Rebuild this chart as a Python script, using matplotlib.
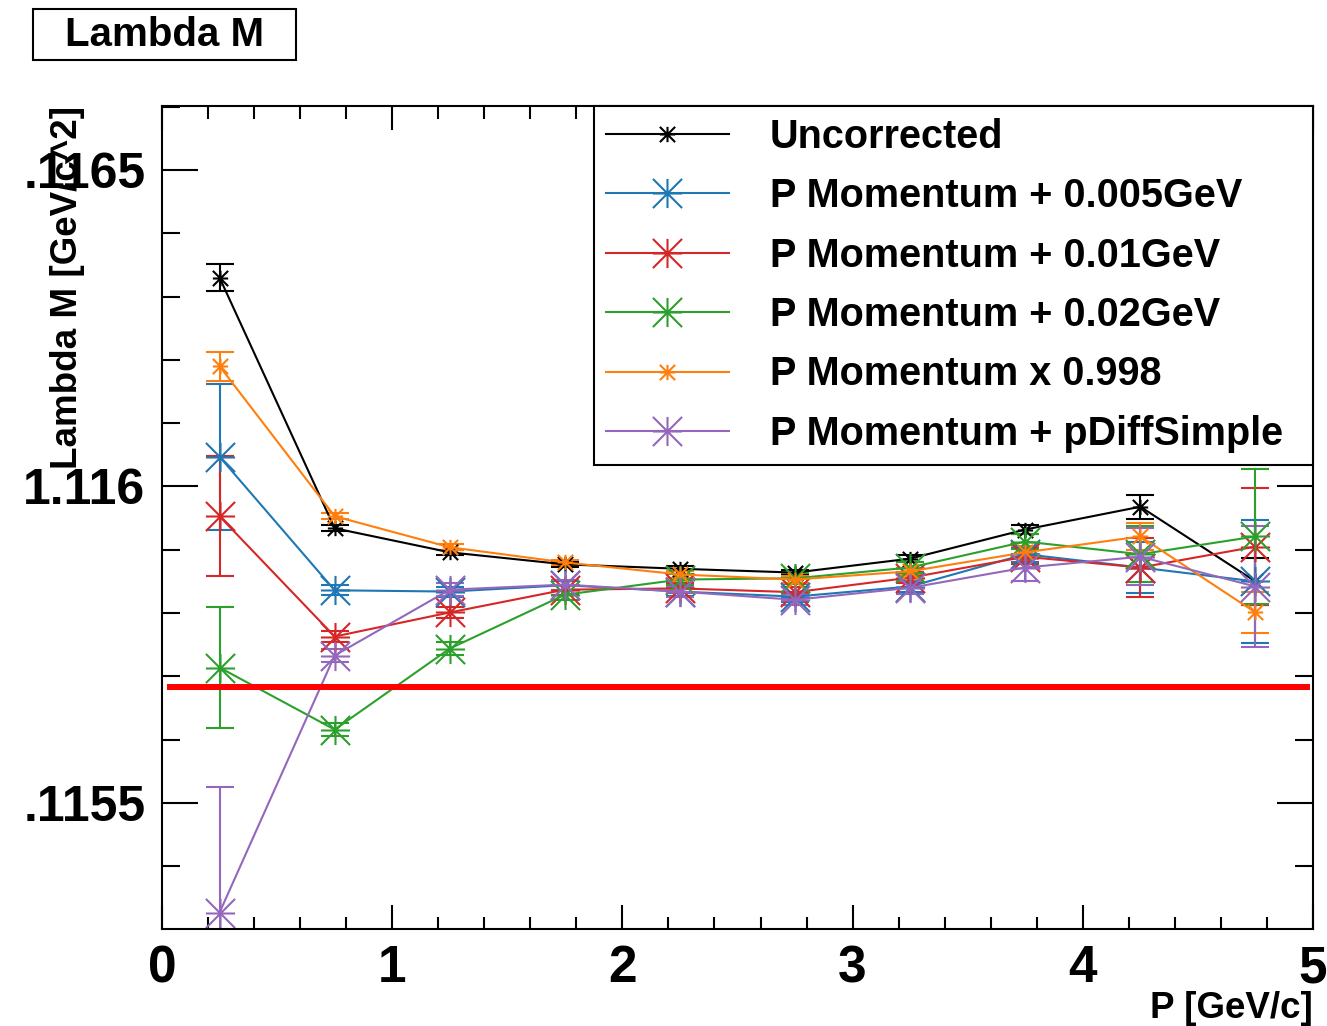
import matplotlib
matplotlib.use("Agg")
import matplotlib.pyplot as plt
import matplotlib.patches as patches
from matplotlib.path import Path
from matplotlib.ticker import FixedLocator, MultipleLocator

plt.rcParams['font.family'] = ['Liberation Sans', 'DejaVu Sans']
plt.rcParams['font.weight'] = 'bold'

# momentum bin centres [GeV/c]
p_bins = [0.25, 0.75, 1.25, 1.75, 2.25, 2.75, 3.25, 3.75, 4.25, 4.75]

# fitted Lambda mass [GeV/c^2] for each correction
uncorrected = [1.116330, 1.115934, 1.115896, 1.115877, 1.115870,
               1.115864, 1.115886, 1.115932, 1.115968, 1.115850]
plus_005 = [1.116047, 1.115836, 1.115834, 1.115844, 1.115834,
            1.115826, 1.115842, 1.115893, 1.115872, 1.115850]
plus_01 = [1.115953, 1.115763, 1.115801, 1.115837, 1.115839,
           1.115833, 1.115856, 1.115889, 1.115872, 1.115905]
plus_02 = [1.115714, 1.115616, 1.115744, 1.115829, 1.115853,
           1.115855, 1.115872, 1.115913, 1.115893, 1.115921]
times_998 = [1.116190, 1.115953, 1.115904, 1.115880, 1.115861,
             1.115853, 1.115866, 1.115896, 1.115921, 1.115801]
pdiff_simple = [1.115327, 1.115733, 1.115837, 1.115845, 1.115834,
                1.115821, 1.115840, 1.115872, 1.115889, 1.115842]

# errors on the fitted mass
err_uncorrected = [22e-6, 5e-6, 4e-6, 4e-6, 4e-6, 4e-6, 5e-6, 7e-6, 19e-6, 37e-6]
err_plus_005 = [115e-6, 8e-6, 8e-6, 7e-6, 7e-6, 8e-6, 8e-6, 12e-6, 40e-6, 97e-6]
err_plus_01 = [95e-6, 9e-6, 9e-6, 8e-6, 8e-6, 9e-6, 9e-6, 12e-6, 46e-6, 93e-6]
err_plus_02 = [95e-6, 10e-6, 10e-6, 8e-6, 8e-6, 9e-6, 9e-6, 12e-6, 44e-6, 106e-6]
err_times_998 = [23e-6, 5e-6, 5e-6, 4e-6, 5e-6, 5e-6, 6e-6, 10e-6, 22e-6, 33e-6]
err_pdiff_simple = [198e-6, 10e-6, 10e-6, 8e-6, 8e-6, 9e-6, 10e-6, 22e-6, 45e-6, 95e-6]

labels = ['Uncorrected', 'P Momentum + 0.005GeV', 'P Momentum + 0.01GeV',
          'P Momentum + 0.02GeV', 'P Momentum x 0.998', 'P Momentum + pDiffSimple']

# PDG Lambda mass reference line
lambda_pdg = 1.115683
pdg_line_x = [0.035, 4.975]

# y tick labels as printed (truncated ROOT style)
ytick_vals = [1.1155, 1.116, 1.1165]
ytick_labels = ['.1155', '1.116', '.1165']

series = [uncorrected, plus_005, plus_01, plus_02, times_998, pdiff_simple]
errors = [err_uncorrected, err_plus_005, err_plus_01, err_plus_02,
          err_times_998, err_pdiff_simple]
colors = ['black', '#1f77b4', '#d62728', '#2ca02c', '#ff7f0e', '#9467bd']
msizes = [11, 21, 21, 21, 11, 21]

# ROOT-like star marker: horizontal, vertical and two diagonals
star = Path([(-1, 0), (1, 0), (0, -1), (0, 1), (-1, -1), (1, 1), (-1, 1), (1, -1)],
            [Path.MOVETO, Path.LINETO] * 4)

fig = plt.figure(figsize=(13.27, 10.26), dpi=100)
ax = fig.add_axes([162 / 1327, 1 - 929 / 1026, 1151 / 1327, 823 / 1026])

handles = []
for vals, errs, col, ms in zip(series, errors, colors, msizes):
    cont = ax.errorbar(p_bins, vals, yerr=errs, color=col, marker=star,
                       markersize=ms, markeredgewidth=1.5, linewidth=1.5,
                       elinewidth=1.5, capsize=10, capthick=1.5)
    handles.append(cont[0])

ax.plot(pdg_line_x, [lambda_pdg, lambda_pdg], color='red', linewidth=4.3, zorder=10)

ax.set_xlim(0, 5)
ax.set_ylim(1.115301, 1.116601)

ax.xaxis.set_major_locator(MultipleLocator(1))
ax.xaxis.set_minor_locator(MultipleLocator(0.2))
ax.yaxis.set_major_locator(FixedLocator(ytick_vals))
ax.yaxis.set_minor_locator(MultipleLocator(0.0001))
ax.set_yticklabels(ytick_labels)

ax.tick_params(which='both', direction='in', top=True, right=True, width=1.5)
ax.tick_params(axis='y', which='major', length=26, labelsize=36, pad=12)
ax.tick_params(axis='y', which='minor', length=13)
ax.tick_params(axis='x', which='major', length=17, labelsize=37, pad=11)
ax.tick_params(axis='x', which='minor', length=9)
for sp in ax.spines.values():
    sp.set_linewidth(1.5)

ax.text(-0.0825, 0.779, 'Lambda M [GeV/c^2]', transform=ax.transAxes,
        rotation=90, ha='center', va='center', fontsize=26.5)
ax.text(1.0, -0.096, 'P [GeV/c]', transform=ax.transAxes,
        ha='right', va='center', fontsize=26.5)

leg = ax.legend(handles, labels, loc='upper left',
                bbox_to_anchor=(0.3753, 0, 0.6247, 1.0), mode='expand',
                borderaxespad=0, fontsize=28.5, fancybox=False, framealpha=1,
                edgecolor='black', handlelength=3.1, handletextpad=1.05,
                labelspacing=0.54, borderpad=0.3, numpoints=1)
leg.get_frame().set_linewidth(1.5)

# title box
fig.patches.append(patches.Rectangle((33 / 1327, 1 - 60 / 1026), 263 / 1327, 51 / 1026,
                                     transform=fig.transFigure, facecolor='white',
                                     edgecolor='black', linewidth=1.5))
fig.text(164.5 / 1327, 1 - 35 / 1026, 'Lambda M', ha='center', va='center', fontsize=29)

fig.savefig('out.png', dpi=100)
